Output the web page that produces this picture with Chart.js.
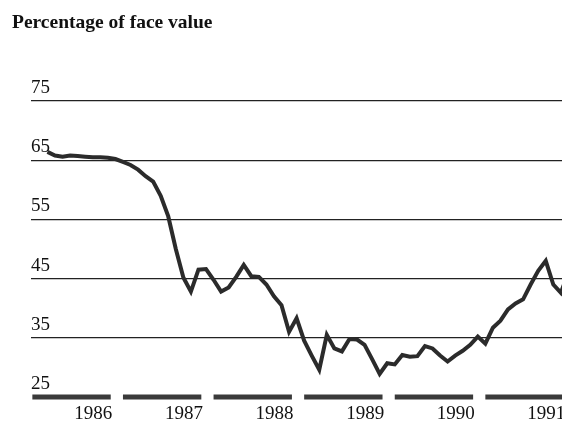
<!DOCTYPE html>
<html>
<head>
<meta charset="utf-8">
<script src="https://cdn.jsdelivr.net/npm/chart.js@4"></script>
<style>
  body { margin: 0; background: #fff; }
  canvas { display: block; }
</style>
</head>
<body>
<canvas id="myChart" width="562" height="422"></canvas>
<script>
// data
const chartTitle = "Percentage of face value";
const years = [1986, 1987, 1988, 1989, 1990, 1991];
const yTicks = [25, 35, 45, 55, 65, 75];
const firstMonth = 2; // march 1986, one value per month after that
const prices = [
  66.4, 65.8, 65.6, 65.8, 65.7, 65.6, 65.5, 65.5, 65.4, 65.2,
  64.7, 64.2, 63.4, 62.3, 61.4, 59.0, 55.5, 50.0, 45.2, 42.8,
  46.5, 46.6, 44.8, 42.8, 43.5, 45.3, 47.3, 45.4, 45.3, 44.0,
  42.0, 40.5, 36.0, 38.3, 34.5, 32.0, 29.6, 35.5, 33.2, 32.7,
  34.8, 34.7, 33.8, 31.4, 28.9, 30.7, 30.5, 32.1, 31.8, 31.9,
  33.6, 33.2, 32.0, 31.0, 32.0, 32.8, 33.8, 35.2, 34.0, 36.7,
  37.9, 39.8, 40.8, 41.5, 44.0, 46.3, 48.0, 44.0, 42.6, 46.0
];

const serif = "'Liberation Serif', 'Times New Roman', serif";
const points = prices.map((v, i) => ({ x: years[0] + (firstMonth + i) / 12, y: v }));

// thick broken bar under each year
const yearBars = {
  id: "yearBars",
  beforeDatasetsDraw(chart) {
    const ctx = chart.ctx;
    const xs = chart.scales.x;
    const y = chart.scales.y.getPixelForValue(yTicks[0]);
    ctx.save();
    ctx.strokeStyle = "#3a3a3a";
    ctx.lineWidth = 5;
    years.forEach(function (yr) {
      ctx.beginPath();
      ctx.moveTo(xs.getPixelForValue(yr), y);
      ctx.lineTo(xs.getPixelForValue(yr + 0.865), y);
      ctx.stroke();
    });
    ctx.restore();
  },
};

const titleText = {
  id: "titleText",
  afterDraw(chart) {
    const ctx = chart.ctx;
    ctx.save();
    ctx.fillStyle = "#111";
    ctx.font = "bold 19.5px " + serif;
    ctx.textBaseline = "alphabetic";
    ctx.fillText(chartTitle, 12, 28);
    ctx.restore();
  },
};

new Chart(document.getElementById("myChart"), {
  type: "line",
  data: {
    datasets: [
      {
        data: points,
        borderColor: "#2b2b2b",
        borderWidth: 4,
        pointRadius: 0,
        tension: 0,
        fill: false,
      },
    ],
  },
  options: {
    responsive: false,
    animation: false,
    layout: { padding: { left: 31, top: 101, right: 0, bottom: -10 } },
    plugins: { legend: { display: false }, tooltip: { enabled: false } },
    scales: {
      x: {
        type: "linear",
        min: 1985.985,
        max: 1991.846,
        grid: { display: false, drawTicks: false },
        border: { display: false },
        afterBuildTicks: function (axis) {
          axis.ticks = years.map((v) => ({ value: v }));
        },
        ticks: {
          autoSkip: false,
          maxRotation: 0,
          padding: 10,
          labelOffset: 61,
          color: "#111",
          font: { family: serif, size: 19, lineHeight: 0.79 },
          callback: (v) => String(v),
        },
      },
      y: {
        min: 25,
        max: 75,
        grid: {
          drawTicks: false,
          lineWidth: 1.2,
          color: (c) => (c.tick && c.tick.value === yTicks[0] ? "rgba(0,0,0,0)" : "#222"),
        },
        border: { display: false },
        afterBuildTicks: function (axis) {
          axis.ticks = yTicks.map((v) => ({ value: v }));
        },
        ticks: {
          mirror: true,
          padding: 0,
          labelOffset: -13,
          color: "#111",
          font: { family: serif, size: 19 },
        },
      },
    },
  },
  plugins: [yearBars, titleText],
});
</script>
</body>
</html>
